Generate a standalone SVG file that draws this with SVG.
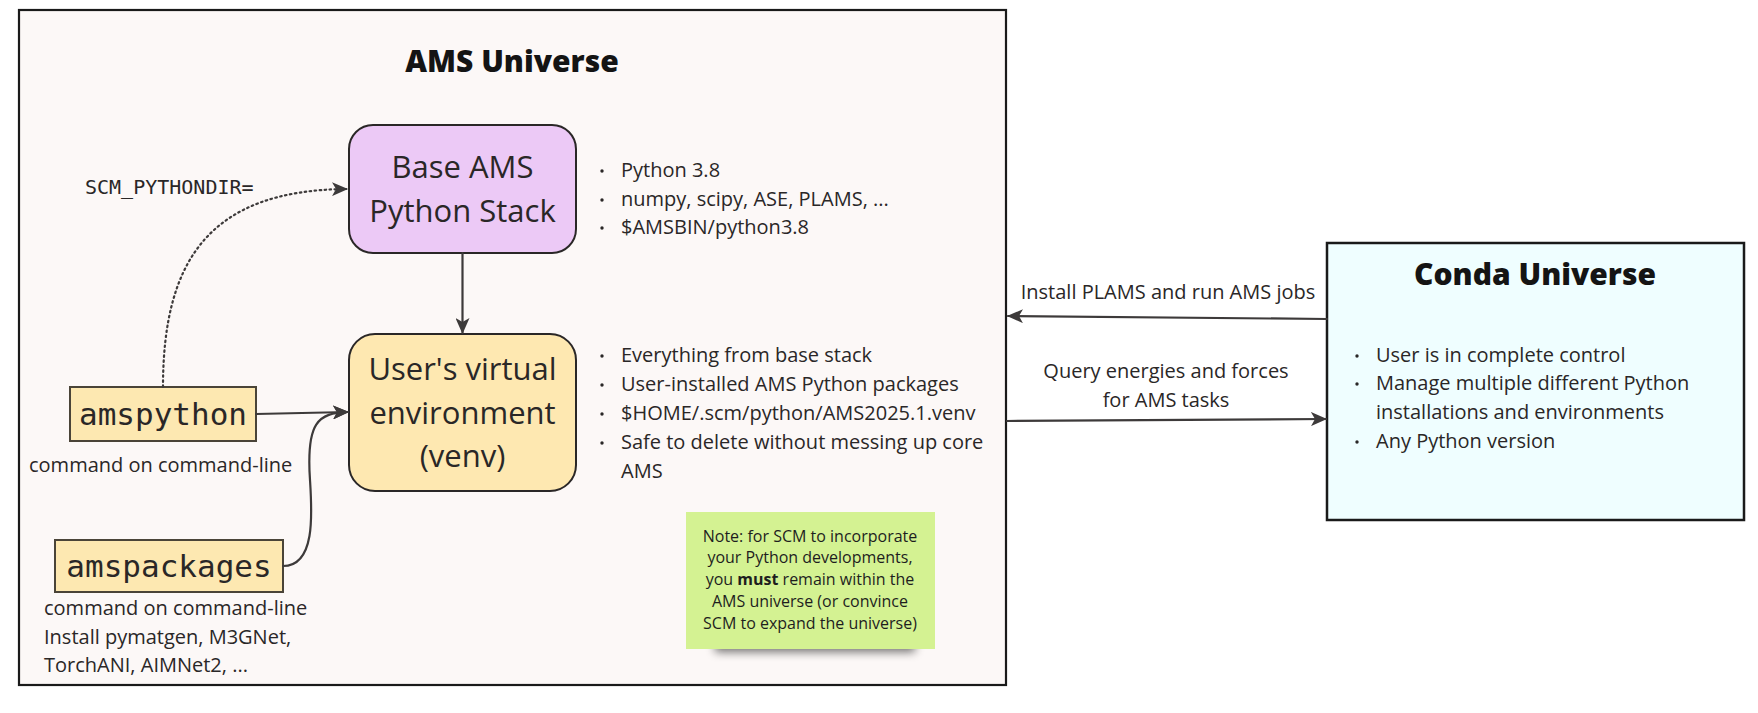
<svg xmlns="http://www.w3.org/2000/svg" width="1758" height="713" viewBox="0 0 1758 713">
<defs>
<style>
.t{font-family:"Open Sans","Noto Sans","Liberation Sans",sans-serif;fill:#2a2727;}
.big{font-size:31px;}
.b20{font-size:20px;}
.mono{font-family:"DejaVu Sans Mono","Liberation Mono",monospace;fill:#2a2727;}
.title{font-family:"Open Sans","Lato","Liberation Sans",sans-serif;font-weight:800;font-size:30px;fill:#141414;}
.note{font-size:16px;fill:#1e1e1e;}
.conn{fill:none;stroke:#3d3a3a;stroke-width:2.2;stroke-linecap:round;}
.dot{fill:#2a2727;}
</style>
<marker id="ah" viewBox="0 0 16 14" refX="15" refY="7" markerWidth="16" markerHeight="14" orient="auto" markerUnits="userSpaceOnUse">
<path d="M0,0 L16,7 L0,14 L4,7 Z" fill="#3d3a3a"/>
</marker>
<filter id="blur" x="-30%" y="-200%" width="160%" height="500%">
<feGaussianBlur stdDeviation="5"/>
</filter>
</defs>

<g id="ams-universe">
<rect x="19" y="10" width="987" height="675" fill="#fcf8f7" stroke="#1a1a1a" stroke-width="2.2"/>
<text class="title" x="512" y="72" text-anchor="middle">AMS Universe</text>
</g>

<g id="conda-universe">
<rect x="1327" y="243" width="417" height="277" fill="#effeff" stroke="#1a1a1a" stroke-width="2.5"/>
<text class="title" x="1535" y="285" text-anchor="middle">Conda Universe</text>
<circle class="dot" cx="1357" cy="356" r="1.7"/>
<circle class="dot" cx="1357" cy="384" r="1.7"/>
<circle class="dot" cx="1357" cy="442" r="1.7"/>
<text class="t b20" x="1376" y="362">User is in complete control</text>
<text class="t b20" x="1376" y="390">Manage multiple different Python</text>
<text class="t b20" x="1376" y="419">installations and environments</text>
<text class="t b20" x="1376" y="448">Any Python version</text>
</g>

<g id="base-stack">
<rect x="349" y="125" width="227" height="128" rx="24" fill="#ecc9f6" stroke="#2a2727" stroke-width="2"/>
<text class="t big" x="462.5" y="178" text-anchor="middle">Base AMS</text>
<text class="t big" x="462.5" y="222" text-anchor="middle">Python Stack</text>
</g>

<g id="base-notes">
<circle class="dot" cx="602" cy="171" r="1.7"/>
<circle class="dot" cx="602" cy="200" r="1.7"/>
<circle class="dot" cx="602" cy="228" r="1.7"/>
<text class="t b20" x="621" y="177">Python 3.8</text>
<text class="t b20" x="621" y="206">numpy, scipy, ASE, PLAMS, ...</text>
<text class="t b20" x="621" y="234">$AMSBIN/python3.8</text>
</g>

<g id="venv">
<rect x="349" y="334" width="227" height="157" rx="26" fill="#fee8b1" stroke="#2a2727" stroke-width="2"/>
<text class="t big" x="462.5" y="380" text-anchor="middle">User's virtual</text>
<text class="t big" x="462.5" y="424" text-anchor="middle">environment</text>
<text class="t big" x="462.5" y="467" text-anchor="middle">(venv)</text>
</g>

<g id="venv-notes">
<circle class="dot" cx="602" cy="356" r="1.7"/>
<circle class="dot" cx="602" cy="385" r="1.7"/>
<circle class="dot" cx="602" cy="414" r="1.7"/>
<circle class="dot" cx="602" cy="443" r="1.7"/>
<text class="t b20" x="621" y="362">Everything from base stack</text>
<text class="t b20" x="621" y="391">User-installed AMS Python packages</text>
<text class="t b20" x="621" y="420">$HOME/.scm/python/AMS2025.1.venv</text>
<text class="t b20" x="621" y="449">Safe to delete without messing up core</text>
<text class="t b20" x="621" y="478">AMS</text>
</g>

<g id="scm-pythondir">
<text class="mono" x="85" y="194" font-size="20">SCM_PYTHONDIR=</text>
</g>

<g id="amspython">
<rect x="70" y="387" width="186" height="54" fill="#fde8b1" stroke="#4a4438" stroke-width="2"/>
<text class="mono" x="163" y="425" font-size="31" text-anchor="middle">amspython</text>
<text class="t b20" x="29" y="472">command on command-line</text>
</g>

<g id="amspackages">
<rect x="55" y="540" width="228" height="52" fill="#fde8b1" stroke="#4a4438" stroke-width="2"/>
<text class="mono" x="169" y="577" font-size="31" text-anchor="middle">amspackages</text>
<text class="t b20" x="44" y="615">command on command-line</text>
<text class="t b20" x="44" y="644">Install pymatgen, M3GNet,</text>
<text class="t b20" x="44" y="672">TorchANI, AIMNet2, ...</text>
</g>

<g id="note">
<rect x="715" y="636" width="200" height="16" fill="#000" opacity="0.55" filter="url(#blur)"/>
<rect x="686" y="512" width="249" height="137" fill="#d4f292"/>
<text class="t note" x="810" y="542" text-anchor="middle">Note: for SCM to incorporate</text>
<text class="t note" x="810" y="563" text-anchor="middle">your Python developments,</text>
<text class="t note" x="810" y="585" text-anchor="middle">you <tspan font-weight="700">must</tspan> remain within the</text>
<text class="t note" x="810" y="607" text-anchor="middle">AMS universe (or convince</text>
<text class="t note" x="810" y="629" text-anchor="middle">SCM to expand the universe)</text>
</g>

<g id="connectors">
<path class="conn" d="M163,387 C163,262 208,190 347,189" stroke-dasharray="1.5,3.5" marker-end="url(#ah)"/>
<path class="conn" d="M462.5,253 L462.5,333" marker-end="url(#ah)"/>
<path class="conn" d="M256,414 L348,412" marker-end="url(#ah)"/>
<path class="conn" d="M283,566 C316,566 312,512 310,480 C306,422 318,413 348,412" marker-end="url(#ah)"/>
<path class="conn" d="M1327,319 L1008,316" stroke-width="2.5" marker-end="url(#ah)"/>
<path class="conn" d="M1007,421 L1326,419" stroke-width="2.5" marker-end="url(#ah)"/>
<text class="t b20" x="1168" y="299" text-anchor="middle">Install PLAMS and run AMS jobs</text>
<text class="t b20" x="1166" y="378" text-anchor="middle">Query energies and forces</text>
<text class="t b20" x="1166" y="407" text-anchor="middle">for AMS tasks</text>
</g>
</svg>
